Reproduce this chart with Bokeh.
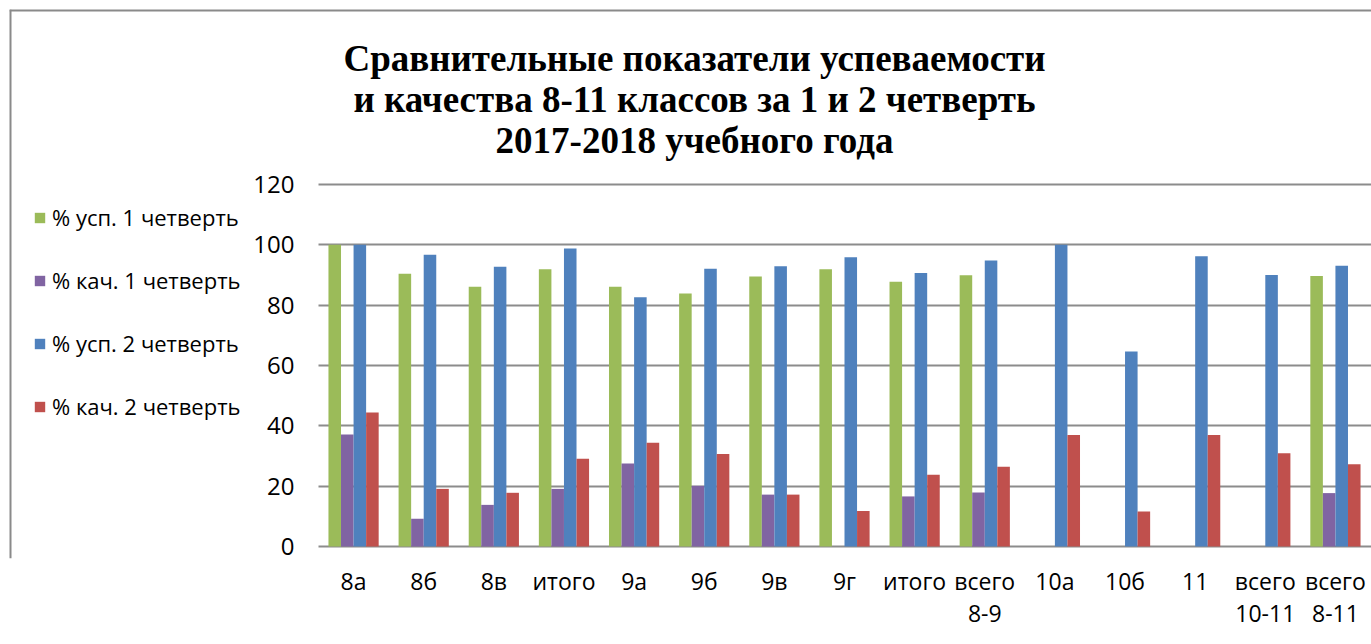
from bokeh.plotting import figure
from bokeh.models import (ColumnDataSource, Range1d, FixedTicker, Legend, LegendItem,
                          Label, Span, BoxAnnotation)
from bokeh.embed import file_html
from bokeh.resources import INLINE

categories = ["8а", "8б", "8в", "итого", "9а", "9б", "9в", "9г", "итого",
              "всего\n8-9", "10а", "10б", "11", "всего\n10-11", "всего\n8-11"]

usp1 = [100, 90.4, 86.1, 91.9, 86.1, 83.9, 89.5, 91.9, 87.8, 89.9, None, None, None, None, 89.7]
kach1 = [37.1, 9.2, 13.8, 19.1, 27.5, 20.1, 17.2, None, 16.6, 17.9, None, None, None, None, 17.7]
usp2 = [100, 96.7, 92.7, 98.8, 82.6, 92.1, 92.9, 95.9, 90.7, 94.8, 100, 64.6, 96.2, 90.0, 93.1]
kach2 = [44.4, 19.1, 17.8, 29.1, 34.4, 30.7, 17.2, 11.8, 23.8, 26.4, 37.0, 11.6, 37.0, 30.9, 27.3]

series_names = ["% усп. 1 четверть", "% кач. 1 четверть", "% усп. 2 четверть", "% кач. 2 четверть"]
series_values = [usp1, kach1, usp2, kach2]
colors = ["#9BBB59", "#8064A2", "#4F81BD", "#C0504D"]
y_ticks = [0, 20, 40, 60, 80, 100, 120]

title_text = ("Сравнительные показатели успеваемости\n"
              "и качества 8-11 классов за 1 и 2 четверть\n"
              "2017-2018 учебного года")

# ---- layout constants (page pixels) ----
PAGE_W, PAGE_H = 1371, 644
FRAME_L, FRAME_T = 9, 9                    # chart-area frame on the page
ZERO_PX = 546                              # pixel row of value 0
FRAME_B = ZERO_PX + 12                     # frame bottom (room for the "0" label)
PLOT_L, PLOT_R = 318, 1370                 # plot area (categories) on the page
Y_TOP_PX = 184                             # pixel of the top tick (120)
LEFT_PAD = 90                              # hidden left panel for the y axis
n = len(categories)
cat_w = (PLOT_R - PLOT_L) / n
x_start = -0.5 - (PLOT_L - FRAME_L) / cat_w
x_end = x_start + (PAGE_W - FRAME_L) / cat_w
y_per_px = y_ticks[-1] / (ZERO_PX - Y_TOP_PX)
y_start = -(FRAME_B - ZERO_PX) * y_per_px
y_end = (ZERO_PX - FRAME_T) * y_per_px

p = figure(width=PAGE_W + LEFT_PAD - FRAME_L, height=PAGE_H,
           output_backend="svg", toolbar_location=None, title_location=None,
           x_range=Range1d(x_start, x_end), y_range=Range1d(y_start, y_end),
           min_border_left=LEFT_PAD, min_border_right=0,
           min_border_top=FRAME_T, min_border_bottom=PAGE_H - FRAME_B)
p.styles = {"margin-left": f"-{LEFT_PAD - FRAME_L}px"}
p.outline_line_color = None

# grid limited to the plot area (the 0 line doubles as the category axis line)
p.xgrid.grid_line_color = None
p.ygrid.ticker = FixedTicker(ticks=y_ticks)
p.ygrid.grid_line_color = "#8c8c8c"
p.ygrid.grid_line_width = 2
grid = p.ygrid[0]
if "cross_bounds" in grid.properties():
    grid.cross_bounds = (-0.5, x_end)
else:
    p.add_layout(BoxAnnotation(left=x_start, right=-0.5, fill_color="white", fill_alpha=1,
                               line_color=None, level="underlay"))

# chart-area border (left and top)
p.add_layout(Span(location=x_start, dimension="height", line_color="#8a8a8a", line_width=4))
p.add_layout(Span(location=y_end, dimension="width", line_color="#8a8a8a", line_width=4))

bw = 0.179
offsets = [-1.5 * bw, -0.5 * bw, 0.5 * bw, 1.5 * bw]
items = []
for name, vals, col, off in zip(series_names, series_values, colors, offsets):
    xs = [i + off for i, v in enumerate(vals) if v is not None]
    ys = [v for v in vals if v is not None]
    src = ColumnDataSource(dict(x=xs, top=ys))
    r = p.vbar(x="x", top="top", width=bw, bottom=0, source=src,
               fill_color=col, line_color=None)
    items.append(LegendItem(label=name, renderers=[r]))

legend = Legend(items=items, location=(33 - FRAME_L, FRAME_B - 421), orientation="vertical",
                label_text_font="Open Sans", label_text_font_size="22px",
                label_text_color="#000000",
                glyph_width=13, glyph_height=13, label_height=24, label_standoff=6,
                spacing=33, padding=0, margin=0,
                border_line_color=None, background_fill_alpha=0)
p.add_layout(legend, "center")

title = Label(x=694 - FRAME_L, y=FRAME_B - 99, x_units="screen", y_units="screen",
              text=title_text,
              text_font="Liberation Serif", text_font_style="bold", text_font_size="37px",
              text_align="center", text_baseline="middle", text_line_height=1.0,
              text_color="#000000")
p.add_layout(title)

# axes
p.xaxis.ticker = FixedTicker(ticks=list(range(n)))
p.xaxis.bounds = (-0.5, n - 0.5)
p.xaxis.major_label_overrides = {i: c for i, c in enumerate(categories)}
p.xaxis.major_label_text_font = "Open Sans"
p.xaxis.major_label_text_font_size = "23px"
p.xaxis.major_label_text_color = "#000000"
p.xaxis.major_label_text_line_height = 1.0
p.xaxis.major_label_standoff = 0
p.xaxis.major_tick_line_color = None
p.xaxis.minor_tick_line_color = None
p.xaxis.axis_line_color = None

p.yaxis.fixed_location = -0.5
p.yaxis.ticker = FixedTicker(ticks=y_ticks)
p.yaxis.major_label_text_font = "Open Sans"
p.yaxis.major_label_text_font_size = "24px"
p.yaxis.major_label_text_color = "#000000"
p.yaxis.major_label_standoff = 18
p.yaxis.major_tick_line_color = None
p.yaxis.minor_tick_line_color = None
p.yaxis.axis_line_color = None

open("out.html", "w").write(file_html(p, INLINE))
